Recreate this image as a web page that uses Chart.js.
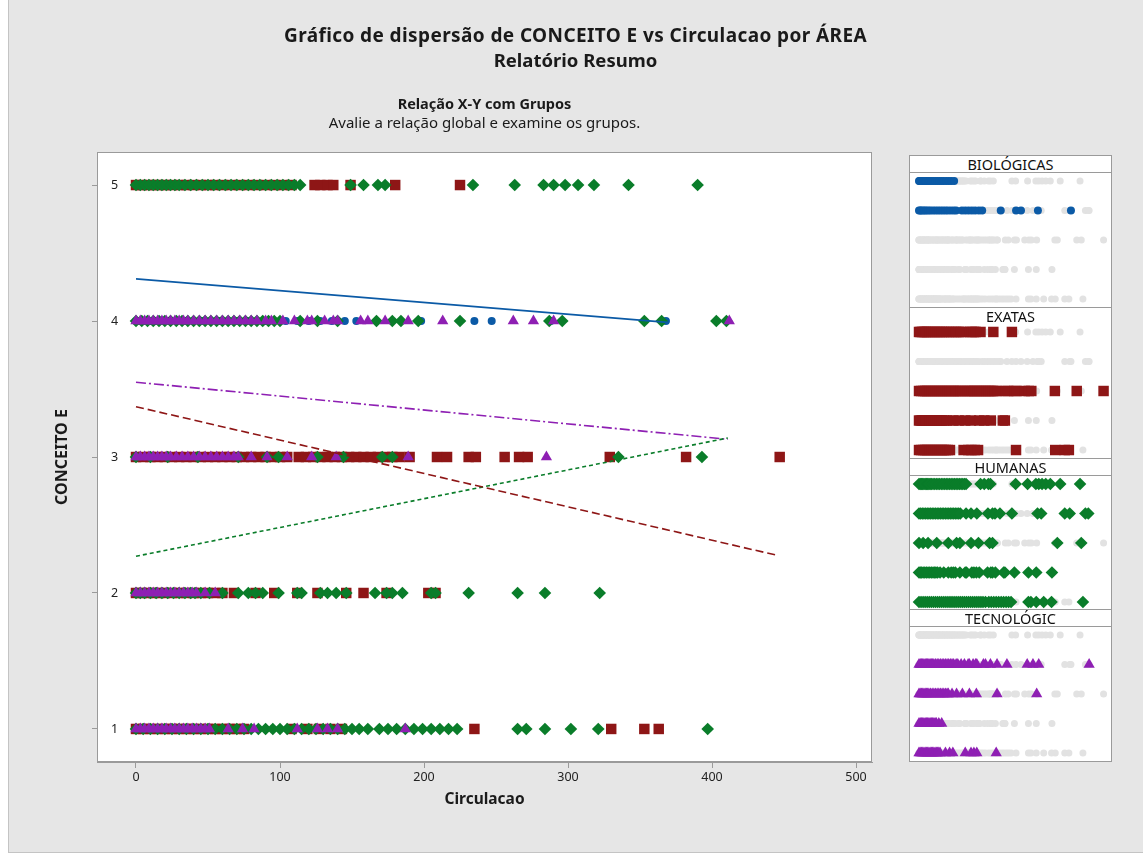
<!DOCTYPE html>
<html>
<head>
<meta charset="utf-8">
<script src="https://cdn.jsdelivr.net/npm/chart.js@4.4.1/dist/chart.umd.min.js"></script>
<style>
  body { margin: 0; background: #fff; font-family: "Noto Sans", sans-serif; }
  #page { position: absolute; left: 8px; top: 0; width: 1134px; height: 852px; background: #e6e6e6;
          border-left: 1px solid #c4c4c4; border-bottom: 1px solid #c4c4c4; }
  .txt { position: absolute; white-space: nowrap; text-align: center; color: #1a1a1a; z-index: 2; }
  #main { position: absolute; left: 0; top: 0; }
  #panels { position: absolute; left: 909px; top: 155px; width: 201px; height: 605px;
            background: #fff; border: 1px solid #9a9a9a; }
  .head { position: absolute; left: 0; width: 201px; height: 16px; line-height: 16px; font-size: 14.5px;
          text-align: center; color: #111; border-bottom: 1px solid #9a9a9a; border-top: 1px solid #9a9a9a; }
  .head.first { border-top: none; }
  .pc { position: absolute; left: 0; }
</style>
</head>
<body>
<div id="page"></div>
<div class="txt" style="left:0;width:1151px;top:22px;line-height:26px;font-size:19px;letter-spacing:0.4px;font-weight:bold;">Gráfico de dispersão de CONCEITO E vs Circulacao por ÁREA</div>
<div class="txt" style="left:0;width:1151px;top:47px;line-height:26px;font-size:18.5px;font-weight:bold;">Relatório Resumo</div>
<div class="txt" style="left:0;width:969px;top:93px;line-height:20px;font-size:14.5px;font-weight:bold;">Relação X-Y com Grupos</div>
<div class="txt" style="left:0;width:969px;top:112px;line-height:20px;font-size:15px;">Avalie a relação global e examine os grupos.</div>

<canvas id="main" width="900" height="854"></canvas>

<div id="panels">
  <div class="head first" style="top:0;">BIOLÓGICAS</div>
  <canvas class="pc" id="p0" width="201" height="134" style="top:17px;"></canvas>
  <div class="head" style="top:151px;">EXATAS</div>
  <canvas class="pc" id="p1" width="201" height="134" style="top:168px;"></canvas>
  <div class="head" style="top:302px;">HUMANAS</div>
  <canvas class="pc" id="p2" width="201" height="134" style="top:320px;"></canvas>
  <div class="head" style="top:453px;">TECNOLÓGIC</div>
  <canvas class="pc" id="p3" width="201" height="134" style="top:471px;"></canvas>
</div>

<script>
const yTicks = [1, 2, 3, 4, 5];
const xTicks = [0, 100, 200, 300, 400, 500];
const areas = ['BIOLÓGICAS', 'EXATAS', 'HUMANAS', 'TECNOLÓGIC'];

// Circulacao values for each ÁREA and CONCEITO E level
const bio5 = [0, 2, 4, 6, 9, 12, 15, 18, 22, 26, 30, 35, 40, 45, 50, 55, 60, 66, 72, 78, 85];
const bio4 = [0, 3, 6, 10, 14, 18, 23, 28, 34, 40, 46, 52, 58, 64, 70, 77, 84, 90, 104, 112, 120, 128, 136, 145, 153, 198, 235, 247, 288, 368];

const exa5 = [0, 4, 8, 12, 16, 20, 25, 30, 35, 40, 45, 50, 55, 60, 66, 72, 78, 84, 90, 96, 102, 108, 124, 128, 133, 137, 149, 180, 225];
const exa3 = [0, 5, 10, 15, 20, 25, 30, 35, 40, 45, 50, 55, 60, 65, 70, 75, 80, 85, 90, 95, 100, 105, 113, 118, 123, 128, 133, 138, 143, 148, 153, 158, 163, 168, 173, 178, 183, 190, 209, 216, 231, 236, 256, 266, 272, 329, 382, 447];
const exa2 = [0, 4, 8, 12, 16, 20, 25, 30, 35, 40, 45, 50, 55, 60, 68, 83, 96, 112, 126, 146, 158, 174, 203, 208];
const exa1 = [0, 5, 10, 15, 20, 25, 30, 35, 40, 45, 50, 55, 60, 65, 70, 75, 108, 119, 127, 135, 143, 235, 330, 353, 363];

const hum5 = [0, 3, 6, 9, 12, 15, 18, 21, 24, 27, 30, 34, 38, 42, 46, 50, 54, 58, 62, 66, 70, 74, 78, 82, 86, 90, 94, 98, 102, 106, 110, 114, 149, 158, 168, 173, 234, 263, 283, 290, 298, 307, 318, 342, 390];
const hum4 = [0, 4, 8, 12, 16, 20, 24, 28, 32, 36, 40, 44, 48, 52, 56, 60, 64, 68, 72, 76, 80, 84, 88, 92, 96, 100, 114, 126, 140, 167, 178, 184, 196, 225, 287, 296, 353, 365, 403, 410];
const hum3 = [0, 10, 22, 43, 71, 91, 99, 126, 144, 171, 178, 335, 393];
const hum2 = [0, 3, 6, 10, 14, 18, 22, 26, 30, 34, 38, 41, 45, 51, 60, 71, 78, 83, 88, 99, 112, 115, 128, 133, 139, 146, 166, 174, 178, 185, 205, 208, 231, 265, 284, 322];
const hum1 = [0, 5, 10, 15, 20, 25, 30, 35, 40, 45, 50, 55, 60, 65, 70, 75, 80, 85, 90, 95, 100, 105, 110, 115, 120, 125, 130, 135, 140, 145, 150, 155, 161, 169, 175, 181, 187, 193, 199, 205, 211, 217, 223, 265, 271, 284, 302, 321, 397];

const tec4 = [0, 3, 6, 9, 12, 15, 18, 21, 24, 27, 30, 33, 36, 40, 44, 48, 52, 56, 60, 64, 68, 72, 76, 80, 84, 90, 94, 102, 110, 119, 122, 131, 137, 140, 156, 161, 173, 189, 213, 262, 276, 290, 412];
const tec3 = [0, 3, 6, 9, 12, 15, 18, 21, 24, 28, 32, 36, 40, 44, 48, 52, 56, 60, 64, 68, 71, 80, 91, 105, 122, 139, 189, 285];
const tec2 = [0, 3, 6, 9, 12, 15, 18, 21, 24, 27, 30, 33, 36, 39, 42, 48, 55];
const tec1 = [0, 3, 6, 9, 12, 15, 18, 21, 24, 27, 30, 33, 36, 39, 42, 45, 48, 51, 64, 74, 82, 112, 126, 133, 140, 187];

// fitted lines (end points)
const bioFitX = [0, 369], bioFitY = [4.31, 3.99];
const exaFitX = [0, 444], exaFitY = [3.37, 2.28];
const humFitX = [0, 411], humFitY = [2.27, 3.14];
const tecFitX = [0, 411], tecFitY = [3.55, 3.13];

function pts(xs, y) { return xs.map(x => ({ x: x, y: y })); }
function line(xs, ys) { return xs.map((x, i) => ({ x: x, y: ys[i] })); }

const groupPts = [
    [].concat(pts(bio5, 5), pts(bio4, 4)),
    [].concat(pts(exa5, 5), pts(exa3, 3), pts(exa2, 2), pts(exa1, 1)),
    [].concat(pts(hum5, 5), pts(hum4, 4), pts(hum3, 3), pts(hum2, 2), pts(hum1, 1)),
    [].concat(pts(tec4, 4), pts(tec3, 3), pts(tec2, 2), pts(tec1, 1))
];
const fits = [line(bioFitX, bioFitY), line(exaFitX, exaFitY), line(humFitX, humFitY), line(tecFitX, tecFitY)];

const styles = [
    { color: '#0b5aa6', pointStyle: 'circle', radius: 4, dash: [] },
    { color: '#8e1616', pointStyle: 'rect', radius: 7.4, dash: [8, 4] },
    { color: '#0a7d2a', pointStyle: 'rectRot', radius: 6.3, dash: [4, 3] },
    { color: '#8e1fb3', pointStyle: 'triangle', radius: 6.5, dash: [10, 3, 2, 3] }
];

Chart.defaults.font.family = '"Noto Sans", sans-serif';
Chart.defaults.color = '#222';

const framePlugin = {
    id: 'frame',
    beforeDraw(chart) {
        const a = chart.chartArea, ctx = chart.ctx;
        ctx.save();
        ctx.fillStyle = '#fff';
        ctx.fillRect(a.left, a.top, a.right - a.left, a.bottom - a.top);
        ctx.restore();
    },
    afterDraw(chart, args, opts) {
        if (!opts.stroke) return;
        const a = chart.chartArea, ctx = chart.ctx;
        ctx.save();
        ctx.strokeStyle = '#9a9a9a';
        ctx.lineWidth = 1;
        ctx.strokeRect(a.left + 0.5, a.top + 0.5, a.right - a.left - 1, a.bottom - a.top - 1);
        ctx.restore();
    }
};

function markerSet(i, data, order) {
    const s = styles[i];
    return {
        label: areas[i], data: data, order: order,
        pointStyle: s.pointStyle, pointRadius: s.radius,
        backgroundColor: s.color, borderColor: s.color, borderWidth: 0
    };
}

// main scatter
const mainSets = [];
for (let i = 0; i < 4; i++) {
    mainSets.push(markerSet(i, groupPts[i], 4 - i + 1));
    mainSets.push({
        label: areas[i] + ' ajuste', data: fits[i], order: 0, showLine: true,
        pointRadius: 0, borderColor: styles[i].color, borderWidth: 1.6,
        borderDash: styles[i].dash, fill: false
    });
}

new Chart(document.getElementById('main').getContext('2d'), {
    type: 'scatter',
    data: { datasets: mainSets },
    options: {
        responsive: false, animation: false, devicePixelRatio: 1,
        layout: { autoPadding: false, padding: { left: 0, top: 152, right: 28, bottom: 0 } },
        plugins: { legend: { display: false }, tooltip: { enabled: false }, frame: { stroke: true } },
        scales: {
            x: {
                type: 'linear', min: -27.08, max: 511.1,
                afterBuildTicks: s => { s.ticks = xTicks.map(v => ({ value: v })); },
                afterFit: s => { s.height = 92; },
                ticks: { padding: 2, font: { size: 12.5 } },
                grid: { drawOnChartArea: false, tickLength: 6, color: '#9a9a9a' },
                border: { color: '#9a9a9a' },
                title: { display: true, text: 'Circulacao', color: '#1a1a1a',
                         font: { size: 15.5, weight: 'bold' }, padding: { top: 0, bottom: 45 } }
            },
            y: {
                type: 'linear', min: 0.757, max: 5.243,
                afterBuildTicks: s => { s.ticks = yTicks.map(v => ({ value: v })); },
                afterFit: s => { s.width = 97; },
                ticks: { mirror: true, padding: 14, font: { size: 12.5 } },
                grid: { drawOnChartArea: false, tickLength: 5, color: '#9a9a9a' },
                border: { color: '#9a9a9a' },
                title: { display: true, text: 'CONCEITO E', color: '#1a1a1a',
                         font: { size: 16, weight: 'bold' }, padding: { top: 53, bottom: 0 } }
            }
        }
    },
    plugins: [framePlugin]
});

// small panels: every point in grey, the area's points in colour
const allPts = [].concat(groupPts[0], groupPts[1], groupPts[2], groupPts[3]);
for (let i = 0; i < 4; i++) {
    new Chart(document.getElementById('p' + i).getContext('2d'), {
        type: 'scatter',
        data: {
            datasets: [
                markerSet(i, groupPts[i], 0),
                { label: 'todos', data: allPts, order: 1, pointStyle: 'circle', pointRadius: 3.5,
                  backgroundColor: '#e2e2e2', borderWidth: 0 }
            ]
        },
        options: {
            responsive: false, animation: false, devicePixelRatio: 1,
            layout: { autoPadding: false, padding: 0 },
            plugins: { legend: { display: false }, tooltip: { enabled: false }, frame: { stroke: false } },
            scales: {
                x: { type: 'linear', display: false, min: -21.8, max: 465 },
                y: { type: 'linear', display: false, min: 0.73, max: 5.27 }
            }
        },
        plugins: [framePlugin]
    });
}
</script>
</body>
</html>
